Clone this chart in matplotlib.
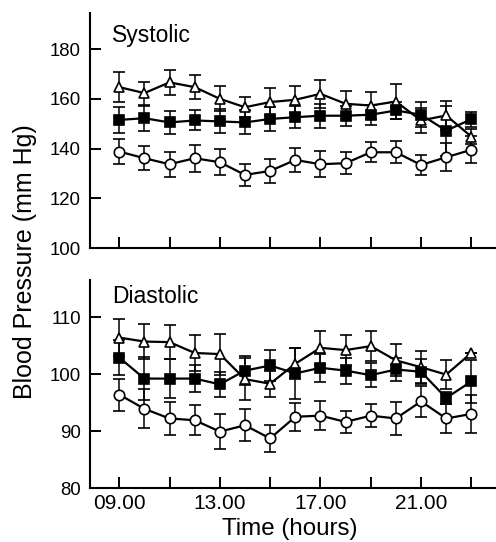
import matplotlib
matplotlib.use("Agg")
import matplotlib.pyplot as plt
import numpy as np

plt.rcParams['font.family'] = ['Liberation Sans', 'DejaVu Sans']

hours = np.arange(9, 24)

# systolic (mm Hg): mean and error for each group
sys_tri = [164.7, 162.3, 166.6, 164.7, 160.0, 156.6, 158.7, 159.6, 162.0, 158.0, 157.3, 158.9, 151.3, 153.3, 144.8]
sys_tri_err = [5.9, 4.6, 5.0, 4.7, 5.0, 4.0, 5.5, 5.5, 5.7, 5.0, 5.5, 7.0, 5.0, 6.0, 3.0]
sys_sq = [151.5, 152.2, 150.5, 151.3, 150.9, 150.5, 151.9, 152.6, 153.2, 153.2, 153.6, 155.3, 153.6, 147.2, 151.8]
sys_sq_err = [5.4, 5.0, 4.7, 4.0, 4.8, 4.8, 5.0, 4.5, 4.8, 4.0, 4.0, 3.5, 5.0, 10.0, 3.0]
sys_circ = [138.8, 136.1, 133.7, 136.1, 134.5, 129.4, 131.0, 135.4, 133.7, 134.1, 138.5, 138.5, 133.4, 136.5, 139.5]
sys_circ_err = [5.0, 4.9, 5.0, 5.4, 5.2, 4.4, 4.7, 4.7, 5.2, 4.4, 4.0, 4.4, 4.0, 5.7, 5.4]

# diastolic (mm Hg)
dia_tri = [106.4, 105.7, 105.6, 103.7, 103.5, 99.1, 98.3, 101.8, 104.6, 104.2, 104.9, 102.4, 101.2, 99.9, 103.7]
dia_tri_err = [3.3, 3.0, 3.0, 3.2, 3.6, 3.7, 2.3, 2.7, 3.0, 2.6, 2.6, 2.8, 2.8, 2.6, 0.0]
dia_sq = [102.9, 99.2, 99.2, 99.2, 98.2, 100.6, 101.5, 100.1, 101.1, 100.6, 99.8, 100.8, 100.4, 95.8, 98.7]
dia_sq_err = [3.0, 3.8, 3.4, 2.3, 2.2, 2.6, 2.8, 4.5, 2.5, 2.3, 2.1, 2.0, 2.2, 1.0, 3.7]
dia_circ = [96.4, 93.9, 92.2, 91.9, 89.9, 91.0, 88.7, 92.5, 92.7, 91.6, 92.7, 92.2, 95.2, 92.2, 93.0]
dia_circ_err = [2.8, 3.4, 2.9, 2.6, 3.0, 2.8, 2.4, 2.5, 2.6, 2.0, 2.0, 2.9, 2.7, 2.6, 3.4]

xtick_pos = [9, 11, 13, 15, 17, 19, 21, 23]
xtick_lab = ['09.00', '', '13.00', '', '17.00', '', '21.00', '']


def draw_group(ax, y, err, marker, face):
    ax.errorbar(hours, y, yerr=err, fmt='-', color='black', lw=1.6,
                marker=marker, ms=7.5, mfc=face, mec='black', mew=1.2,
                ecolor='black', elinewidth=1.1, capsize=4, capthick=1.2)


def style_axes(ax, ylim, yticks):
    ax.set_xlim(7.84, 23.98)
    ax.set_ylim(*ylim)
    ax.set_yticks(yticks)
    ax.set_xticks(xtick_pos)
    for s in ['top', 'right']:
        ax.spines[s].set_visible(False)
    for s in ['left', 'bottom']:
        ax.spines[s].set_linewidth(1.5)
    ax.tick_params(direction='in', length=8, width=1.4)
    ax.tick_params(axis='y', labelsize=13.4, pad=6.5)
    ax.tick_params(axis='x', labelsize=15, pad=4.5)


fig = plt.figure(figsize=(4.96, 5.42), dpi=100)

ax1 = fig.add_axes([0.1815, 0.5424, 0.8185, 0.4336])
draw_group(ax1, sys_tri, sys_tri_err, '^', 'white')
draw_group(ax1, sys_sq, sys_sq_err, 's', 'black')
draw_group(ax1, sys_circ, sys_circ_err, 'o', 'white')
style_axes(ax1, (100, 194.5), [100, 120, 140, 160, 180])
ax1.set_xticklabels([])
ax1.text(0.055, 0.955, 'Systolic', transform=ax1.transAxes, fontsize=16.5,
         ha='left', va='top')

ax2 = fig.add_axes([0.1815, 0.0996, 0.8185, 0.3838])
draw_group(ax2, dia_tri, dia_tri_err, '^', 'white')
draw_group(ax2, dia_sq, dia_sq_err, 's', 'black')
draw_group(ax2, dia_circ, dia_circ_err, 'o', 'white')
style_axes(ax2, (80, 116.5), [80, 90, 100, 110])
ax2.set_xticklabels(xtick_lab)
ax2.text(0.055, 0.975, 'Diastolic', transform=ax2.transAxes, fontsize=16.5,
         ha='left', va='top')

fig.text(0.05, 0.518, 'Blood Pressure (mm Hg)', rotation=90, fontsize=18,
         ha='center', va='center')
fig.text(0.585, 0.024, 'Time (hours)', fontsize=17.4, ha='center', va='center')

fig.savefig('out.png', dpi=100)
